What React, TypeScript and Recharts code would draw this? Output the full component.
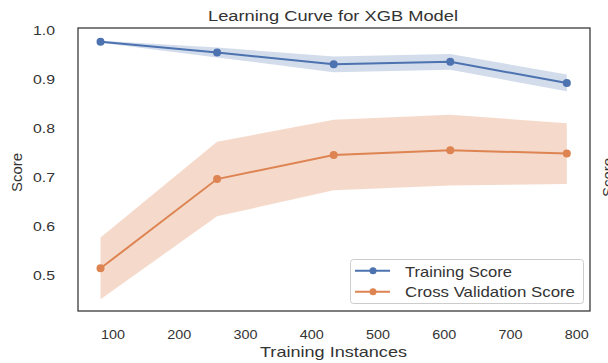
import { ComposedChart, Line, Area, XAxis, YAxis } from "recharts";

// training sizes and learning-curve scores (mean / std over CV folds)
const SIZES = [81, 257, 433, 609, 785];
const TRAIN_MEAN = [0.976, 0.954, 0.93, 0.935, 0.892];
const TRAIN_STD = [0.002, 0.01, 0.016, 0.016, 0.017];
const CV_MEAN = [0.514, 0.696, 0.745, 0.755, 0.748];
const CV_STD = [0.063, 0.076, 0.072, 0.072, 0.062];

const X_TICKS = [100, 200, 300, 400, 500, 600, 700, 800];
const Y_TICKS = [0.5, 0.6, 0.7, 0.8, 0.9, 1.0];
const X_DOMAIN: [number, number] = [47, 820];
const Y_DOMAIN: [number, number] = [0.427, 1.004];

const SERIES_NAMES = ["Training Score", "Cross Validation Score"];

const W = 608;
const H = 363;
// plot box inside the chart
const PLOT = { left: 78, top: 28, right: 590, bottom: 311 };
const Y_AXIS_W = 60;
const X_AXIS_H = 30;

const BLUE = "#4c72b0";
const ORANGE = "#dd8452";
const TEXT = "#333333";
const EDGE_COLOR = "#3a3a3a";
const FONT = "'Liberation Sans', Arial, sans-serif";

const data = SIZES.map((s, i) => ({
    size: s,
    train: TRAIN_MEAN[i],
    trainBand: [TRAIN_MEAN[i] - TRAIN_STD[i], TRAIN_MEAN[i] + TRAIN_STD[i]],
    cv: CV_MEAN[i],
    cvBand: [CV_MEAN[i] - CV_STD[i], CV_MEAN[i] + CV_STD[i]],
}));

const XTick = (props: any) => {
    const { x, y, payload } = props;
    const label = String(payload.value);
    return (
        <text x={x} y={y} dy="0.71em" textAnchor="middle" fontSize={13} fill={TEXT}
            fontFamily={FONT} textLength={label.length * 8} lengthAdjust="spacingAndGlyphs">
            {label}
        </text>
    );
};

const YTick = (props: any) => {
    const { x, y, payload } = props;
    const label = Number(payload.value).toFixed(1);
    return (
        <text x={x} y={y} dy="0.355em" textAnchor="end" fontSize={13} fill={TEXT}
            fontFamily={FONT} textLength={22} lengthAdjust="spacingAndGlyphs">
            {label}
        </text>
    );
};

const App = () => {
    return (
        <div style={{ position: "absolute", left: 0, top: 0, width: W, height: H, background: "#fff" }}>
            <ComposedChart width={W} height={H} data={data}
                margin={{
                    top: PLOT.top,
                    right: W - PLOT.right,
                    bottom: H - PLOT.bottom - X_AXIS_H,
                    left: PLOT.left - Y_AXIS_W,
                }}>
                <XAxis type="number" dataKey="size" domain={X_DOMAIN} ticks={X_TICKS}
                    allowDataOverflow height={X_AXIS_H} axisLine={false} tickLine={false}
                    tickSize={0} tickMargin={19} tick={<XTick />} interval={0} />
                <YAxis type="number" domain={Y_DOMAIN} ticks={Y_TICKS} allowDataOverflow
                    width={Y_AXIS_W} axisLine={false} tickLine={false} tickSize={0} tickMargin={23}
                    tick={<YTick />} interval={0} />

                <Area type="linear" dataKey="trainBand" stroke="none" fill={BLUE}
                    fillOpacity={0.25} isAnimationActive={false} activeDot={false} />
                <Area type="linear" dataKey="cvBand" stroke="none" fill={ORANGE}
                    fillOpacity={0.3} isAnimationActive={false} activeDot={false} />

                <Line type="linear" dataKey="train" stroke={BLUE} strokeWidth={2}
                    dot={{ r: 4, fill: BLUE, stroke: BLUE, strokeWidth: 0 }}
                    activeDot={false} isAnimationActive={false} />
                <Line type="linear" dataKey="cv" stroke={ORANGE} strokeWidth={2}
                    dot={{ r: 4, fill: ORANGE, stroke: ORANGE, strokeWidth: 0 }}
                    activeDot={false} isAnimationActive={false} />
            </ComposedChart>

            {/* frame, title, axis labels, legend */}
            <svg width={W} height={H} style={{ position: "absolute", left: 0, top: 0, pointerEvents: "none" }}
                fontFamily={FONT} fill={TEXT}>
                <rect x={PLOT.left} y={PLOT.top} width={PLOT.right - PLOT.left} height={PLOT.bottom - PLOT.top}
                    fill="none" stroke={EDGE_COLOR} strokeWidth={1.3} />

                <text x={208} y={21} fontSize={14} textLength={250} lengthAdjust="spacingAndGlyphs">
                    Learning Curve for XGB Model
                </text>
                <text x={260} y={357} fontSize={15} textLength={147} lengthAdjust="spacingAndGlyphs">
                    Training Instances
                </text>
                <text transform="translate(22,192) rotate(-90)" fontSize={15} textLength={39}
                    lengthAdjust="spacingAndGlyphs">
                    Score
                </text>
                {/* label of the neighbouring subplot, cut off at the edge */}
                <text transform="translate(612.7,197) rotate(-90)" fontSize={15} textLength={39}
                    lengthAdjust="spacingAndGlyphs">
                    Score
                </text>

                <rect x={350.5} y={259.5} width={233} height={44} rx={3}
                    fill="#fff" fillOpacity={0.8} stroke="#cccccc" strokeWidth={1} />
                <line x1={355} x2={390} y1={270.7} y2={270.7} stroke={BLUE} strokeWidth={2} />
                <circle cx={373} cy={270.7} r={3.5} fill={BLUE} />
                <text x={405} y={276.7} fontSize={15} textLength={107} lengthAdjust="spacingAndGlyphs">
                    {SERIES_NAMES[0]}
                </text>
                <line x1={355} x2={390} y1={291.7} y2={291.7} stroke={ORANGE} strokeWidth={2} />
                <circle cx={373} cy={291.7} r={3.5} fill={ORANGE} />
                <text x={405} y={297.3} fontSize={15} textLength={170} lengthAdjust="spacingAndGlyphs">
                    {SERIES_NAMES[1]}
                </text>
            </svg>
        </div>
    );
};

export default App;
